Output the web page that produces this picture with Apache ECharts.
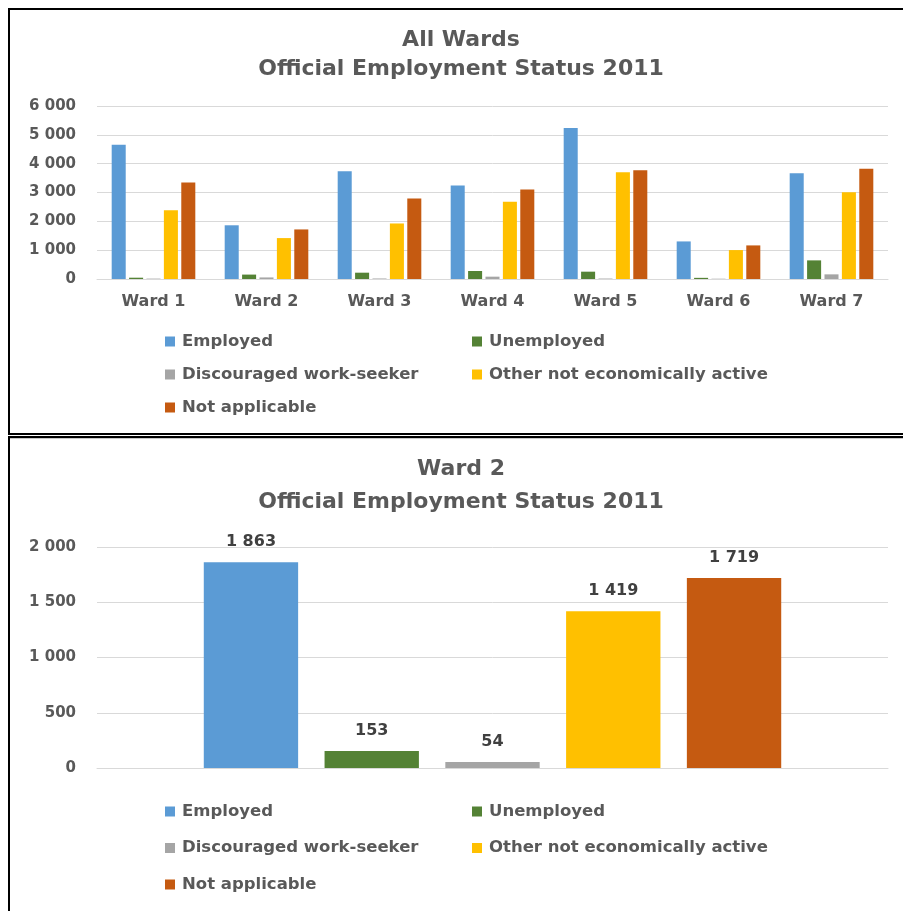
<!DOCTYPE html>
<html>
<head>
<meta charset="utf-8">
<title>Official Employment Status 2011</title>
<script src="https://cdn.jsdelivr.net/npm/echarts@6/dist/echarts.min.js"></script>
<style>
  html, body { margin: 0; padding: 0; background: #ffffff; }
  #chart { width: 903px; height: 911px; }
</style>
</head>
<body>
<div id="chart"></div>
<script>
// Census 2011 – official employment status per ward
const wards = ['Ward 1', 'Ward 2', 'Ward 3', 'Ward 4', 'Ward 5', 'Ward 6', 'Ward 7'];
const employed       = [4659, 1863, 3736, 3240, 5235, 1303, 3667];
const unemployed     = [45, 153, 219, 277, 254, 40, 646];
const discouraged    = [14, 54, 18, 81, 16, 10, 161];
const otherInactive  = [2387, 1419, 1926, 2675, 3701, 1003, 3009];
const notApplicable  = [3344, 1719, 2790, 3102, 3770, 1165, 3828];

const statusNames = ['Employed', 'Unemployed', 'Discouraged work-seeker', 'Other not economically active', 'Not applicable'];
const statusColors = ['#5B9BD5', '#548235', '#A5A5A5', '#FFC000', '#C55A11'];
const statusValues = [employed, unemployed, discouraged, otherInactive, notApplicable];

const allWardTicks = [0, 1000, 2000, 3000, 4000, 5000, 6000];
const singleWardTicks = [0, 500, 1000, 1500, 2000];
const focusWard = 'Ward 2';
const focusIndex = wards.indexOf(focusWard);

const FONT = "'DejaVu Sans', sans-serif";
const GREY_TEXT = '#595959';

// thousands grouped with a space: 1863 -> "1 863"
function spaced(v) {
  return String(Math.round(v)).replace(/\B(?=(\d{3})+(?!\d))/g, ' ');
}

const chart = echarts.init(document.getElementById('chart'), null, { renderer: 'canvas' });

function legendBlock(names, left, top, gap) {
  return {
    data: names,
    orient: 'vertical',
    left: left,
    top: top,
    padding: 0,
    itemGap: gap,
    itemWidth: 10,
    itemHeight: 10,
    icon: 'rect',
    selectedMode: false,
    textStyle: {
      fontFamily: FONT, fontWeight: 'bold', fontSize: 16.5, color: GREY_TEXT,
      lineHeight: 16, padding: [0, 0, 0, 2]
    }
  };
}

const col1 = [statusNames[0], statusNames[2], statusNames[4]];
const col2 = [statusNames[1], statusNames[3]];

const valueAxisCommon = {
  type: 'value',
  axisLine: { show: false },
  axisTick: { show: false },
  splitLine: { lineStyle: { color: '#d9d9d9', width: 1 } },
  axisLabel: {
    fontFamily: FONT, fontWeight: 'bold', fontSize: 15, color: GREY_TEXT,
    margin: 21, formatter: spaced
  }
};

const series = [];
statusNames.forEach((name, i) => {
  series.push({
    name: name,
    type: 'bar',
    xAxisIndex: 0,
    yAxisIndex: 0,
    data: statusValues[i],
    barGap: '24%',
    barCategoryGap: '26%',
    itemStyle: { color: statusColors[i] },
    emphasis: { disabled: true },
    silent: true
  });
});
statusNames.forEach((name, i) => {
  series.push({
    name: name,
    type: 'bar',
    xAxisIndex: 1,
    yAxisIndex: 1,
    data: [statusValues[i][focusIndex]],
    barGap: '28%',
    barCategoryGap: '27%',
    itemStyle: { color: statusColors[i] },
    label: {
      show: true,
      position: 'top',
      distance: 12,
      fontFamily: FONT, fontWeight: 'bold', fontSize: 16, color: '#404040',
      formatter: p => spaced(p.value)
    },
    emphasis: { disabled: true },
    silent: true
  });
});

const option = {
  animation: false,
  backgroundColor: '#ffffff',
  title: [
    {
      text: 'All Wards\nOfficial Employment Status 2011',
      left: 461, top: 26, padding: 0, textAlign: 'center',
      textStyle: { fontFamily: FONT, fontWeight: 'bold', fontSize: 22, color: GREY_TEXT, lineHeight: 29 }
    },
    {
      text: focusWard + '\nOfficial Employment Status 2011',
      left: 461, top: 453, padding: 0, textAlign: 'center',
      textStyle: { fontFamily: FONT, fontWeight: 'bold', fontSize: 22, color: GREY_TEXT, lineHeight: 33 }
    }
  ],
  legend: [
    legendBlock(col1, 165, 333, 16),
    legendBlock(col2, 472, 333, 16),
    legendBlock(col1, 165, 803, 19.5),
    legendBlock(col2, 472, 803, 19.5)
  ],
  grid: [
    { left: 97, right: 15, top: 106, height: 173, containLabel: false },
    { left: 97, right: 15, top: 547, height: 221, containLabel: false }
  ],
  xAxis: [
    {
      gridIndex: 0, type: 'category', data: wards,
      axisLine: { lineStyle: { color: '#d9d9d9', width: 1 } },
      axisTick: { show: false },
      axisLabel: { fontFamily: FONT, fontWeight: 'bold', fontSize: 16, color: GREY_TEXT, margin: 15 }
    },
    {
      gridIndex: 1, type: 'category', data: [focusWard],
      axisLine: { lineStyle: { color: '#d9d9d9', width: 1 } },
      axisTick: { show: false },
      axisLabel: { show: false }
    }
  ],
  yAxis: [
    Object.assign({}, valueAxisCommon, {
      gridIndex: 0,
      min: allWardTicks[0], max: allWardTicks[allWardTicks.length - 1],
      interval: allWardTicks[1] - allWardTicks[0]
    }),
    Object.assign({}, valueAxisCommon, {
      gridIndex: 1,
      min: singleWardTicks[0], max: singleWardTicks[singleWardTicks.length - 1],
      interval: singleWardTicks[1] - singleWardTicks[0]
    })
  ],
  graphic: [
    // frame around the all-wards panel
    { type: 'rect', shape: { x: 8, y: 8, width: 895, height: 2 }, style: { fill: '#000' }, silent: true },
    { type: 'rect', shape: { x: 8, y: 8, width: 2, height: 427 }, style: { fill: '#000' }, silent: true },
    { type: 'rect', shape: { x: 8, y: 433, width: 895, height: 2 }, style: { fill: '#000' }, silent: true },
    // frame around the single-ward panel
    { type: 'rect', shape: { x: 8, y: 436, width: 895, height: 2 }, style: { fill: '#000' }, silent: true },
    { type: 'rect', shape: { x: 8, y: 438, width: 895, height: 1 }, style: { fill: '#c8c8c8' }, silent: true },
    { type: 'rect', shape: { x: 8, y: 436, width: 2, height: 475 }, style: { fill: '#000' }, silent: true }
  ],
  series: series
};

chart.setOption(option);
</script>
</body>
</html>
